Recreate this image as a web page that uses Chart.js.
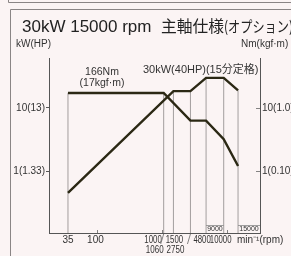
<!DOCTYPE html>
<html lang="ja">
<head>
<meta charset="UTF-8">
<title>30kW 15000 rpm 主軸仕様</title>
<script src="https://cdn.jsdelivr.net/npm/chart.js@4.4.0/dist/chart.umd.min.js"></script>
<style>
  html, body { margin: 0; padding: 0; background: #fbf4f4; }
  #wrap { width: 291px; height: 256px; position: relative; }
</style>
</head>
<body>
<div id="wrap"><canvas id="spindle"></canvas></div>
<script>
// output power (kW) against spindle speed (min-1)
var powerRpm = [35, 1500, 2750, 4800, 9000, 15000];
var powerKw = [0.45, 18.5, 18.5, 30, 30, 19];
// torque, read against the right hand axis
var torqueRpm = [35, 1060, 2750, 4800, 9000, 15000];
var torqueVal = [17.3, 17.3, 6.3, 6.3, 3.2, 1.2];

var xTicks = [35, 100, 1000, 1500, 4800, 10000];
var xTickLabels = ['35', '100', '1000', '1500', '4800', '10000'];
var xTicks2 = [1060, 2750];
var xTickLabels2 = ['1060', '2750'];
var yTicks = [1, 10];
var yLeftLabels = ['1(1.33)', '10(13)'];
var yRightLabels = ['1(0.10)', '10(1.0)'];

var X_MIN = 17.8, X_MAX = 32800;
var Y_MIN = 0.104, Y_MAX = 62;

var INK = '#2b2814';
var SANS = '"Liberation Sans", Arial, "Noto Sans CJK JP", sans-serif';

function pts(xs, ys) {
    return xs.map(function (x, i) { return { x: x, y: ys[i] }; });
}
function valueAt(xs, ys, x) {
    var i = xs.indexOf(x);
    return i < 0 ? 0 : ys[i];
}

// thin drop lines from the x axis up to the upper curve at every break point
var guideRpm = powerRpm.concat(torqueRpm)
    .filter(function (v, i, a) { return a.indexOf(v) === i; })
    .sort(function (a, b) { return a - b; });
var guidePts = [];
guideRpm.forEach(function (r) {
    var top = Math.max(valueAt(powerRpm, powerKw, r), valueAt(torqueRpm, torqueVal, r));
    guidePts.push({ x: r, y: Y_MIN }, { x: r, y: top }, { x: r, y: null });
});

// draw text squeezed into a given width
function fitText(ctx, text, x, y, w, font) {
    ctx.font = font;
    var m = ctx.measureText(text).width;
    ctx.save();
    ctx.translate(x, y);
    ctx.scale(Math.min(1, w / m), 1);
    ctx.fillText(text, 0, 0);
    ctx.restore();
}

// centred text, narrowed horizontally
function narrowText(ctx, text, cx, y, sx) {
    ctx.save();
    ctx.translate(cx, y);
    ctx.scale(sx, 1);
    ctx.fillText(text, 0, 0);
    ctx.restore();
}

var decor = {
    id: 'decor',
    beforeDraw: function (chart) {
        var ctx = chart.ctx;
        ctx.save();
        ctx.fillStyle = '#fbf4f4';
        ctx.fillRect(0, 0, chart.width, chart.height);
        // frame of the previous panel and of this one
        ctx.strokeStyle = '#8a8585';
        ctx.lineWidth = 1;
        ctx.beginPath();
        ctx.moveTo(8.5, 0); ctx.lineTo(8.5, 2.5); ctx.lineTo(chart.width, 2.5);
        ctx.moveTo(chart.width, 9.5); ctx.lineTo(10.5, 9.5); ctx.lineTo(10.5, chart.height);
        ctx.stroke();
        ctx.restore();
    },
    afterDraw: function (chart) {
        var ctx = chart.ctx;
        var xs = chart.scales.x, y1 = chart.scales.y1;
        var area = chart.chartArea;
        ctx.save();
        ctx.fillStyle = '#222';
        ctx.textBaseline = 'alphabetic';
        ctx.textAlign = 'left';
        ctx.font = '17px ' + SANS;
        ctx.fillText('30kW 15000 rpm', 22, 32);
        fitText(ctx, '主軸仕様', 161, 32, 63, '16px "Noto Sans CJK JP", sans-serif');
        fitText(ctx, '(オプション)', 224, 32, 69, '15px "Noto Sans CJK JP", sans-serif');

        ctx.fillStyle = '#333';
        ctx.textBaseline = 'middle';
        ctx.font = '10px ' + SANS;
        ctx.fillText('kW(HP)', 16, 44);
        ctx.fillText('Nm(kgf·m)', 241, 44);

        ctx.textAlign = 'center';
        ctx.font = '10.5px ' + SANS;
        ctx.fillText('166Nm', 102, 72);
        ctx.fillText('(17kgf·m)', 102, 83);
        ctx.textAlign = 'left';
        ctx.font = '11px ' + SANS;
        ctx.fillText('30kW(40HP)(15分定格)', 143, 70);

        // x axis labels, nudged and narrowed like the printed chart
        var nudge = [0, -2, -9, 1, -4, -6];
        ctx.textAlign = 'center';
        ctx.font = '10px ' + SANS;
        xTicks.forEach(function (v, i) {
            var sx = xTickLabels[i].length >= 4 ? 0.78 : 1;
            narrowText(ctx, xTickLabels[i], xs.getPixelForValue(v) + nudge[i], 240, sx);
        });
        var nudge2 = [-9, -15];
        xTicks2.forEach(function (v, i) {
            narrowText(ctx, xTickLabels2[i], xs.getPixelForValue(v) + nudge2[i], 250, 0.8);
        });
        ctx.textAlign = 'left';
        ctx.fillText('min⁻¹(rpm)', 237, 240);

        ctx.strokeStyle = '#666';
        ctx.lineWidth = 0.8;
        ctx.beginPath();
        xTicks2.forEach(function (v) {
            var px = xs.getPixelForValue(v);
            ctx.moveTo(px, area.bottom + 1); ctx.lineTo(px - 3, area.bottom + 11);
        });
        // small decade marks
        [100, 1000, 10000].forEach(function (v) {
            var px = Math.round(xs.getPixelForValue(v)) + 0.5;
            ctx.moveTo(px, area.bottom); ctx.lineTo(px, area.bottom - 3);
        });
        // right axis tick marks point inwards
        yTicks.forEach(function (v) {
            var py = Math.round(y1.getPixelForValue(v)) + 0.5;
            ctx.moveTo(area.right - 4, py); ctx.lineTo(area.right, py);
        });
        ctx.stroke();

        // little boxed speed labels
        var p48 = xs.getPixelForValue(4800), p90 = xs.getPixelForValue(9000), p150 = xs.getPixelForValue(15000);
        ctx.strokeStyle = '#888';
        ctx.beginPath();
        ctx.moveTo(p48, 225.5); ctx.lineTo(p90, 225.5);
        ctx.moveTo(p150, 225.5); ctx.lineTo(area.right, 225.5);
        ctx.stroke();
        ctx.fillStyle = '#333';
        ctx.font = '7px ' + SANS;
        ctx.textAlign = 'right';
        ctx.fillText('9000', p90 - 1, 229.5);
        ctx.textAlign = 'center';
        ctx.fillText('15000', (p150 + area.right) / 2, 229.5);
        ctx.restore();
    }
};

new Chart(document.getElementById('spindle'), {
    type: 'line',
    data: {
        datasets: [
            {
                label: 'power',
                data: pts(powerRpm, powerKw),
                yAxisID: 'y',
                borderColor: INK,
                borderWidth: 2.4,
                pointRadius: 0,
                tension: 0,
                order: 1
            },
            {
                label: 'torque',
                data: pts(torqueRpm, torqueVal),
                yAxisID: 'y1',
                borderColor: INK,
                borderWidth: 2.4,
                pointRadius: 0,
                tension: 0,
                order: 2
            },
            {
                label: 'guides',
                data: guidePts,
                yAxisID: 'y',
                borderColor: '#a39e9e',
                borderWidth: 1,
                pointRadius: 0,
                spanGaps: false,
                order: 3
            }
        ]
    },
    options: {
        responsive: true,
        maintainAspectRatio: false,
        animation: false,
        layout: { padding: { top: 58, left: 0, right: 0, bottom: 0 } },
        plugins: {
            legend: { display: false },
            title: { display: false },
            tooltip: { enabled: false }
        },
        scales: {
            x: {
                type: 'logarithmic',
                min: X_MIN,
                max: X_MAX,
                afterBuildTicks: function (s) { s.ticks = xTicks.map(function (v) { return { value: v }; }); },
                afterFit: function (s) { s.height = 23; },
                ticks: { display: false },
                grid: { drawOnChartArea: false, drawTicks: false },
                border: { color: '#555', width: 1 }
            },
            y: {
                type: 'logarithmic',
                position: 'left',
                min: Y_MIN,
                max: Y_MAX,
                afterBuildTicks: function (s) { s.ticks = yTicks.map(function (v) { return { value: v }; }); },
                afterFit: function (s) { s.width = 49; },
                ticks: {
                    autoSkip: false,
                    padding: 1,
                    color: '#333',
                    font: { size: 10, family: SANS },
                    callback: function (v, i) { return yLeftLabels[i]; }
                },
                grid: { drawOnChartArea: false, tickLength: 3, color: '#555' },
                border: { color: '#555', width: 1 }
            },
            y1: {
                type: 'logarithmic',
                position: 'right',
                min: Y_MIN,
                max: Y_MAX,
                afterBuildTicks: function (s) { s.ticks = yTicks.map(function (v) { return { value: v }; }); },
                afterFit: function (s) { s.width = 31; },
                ticks: {
                    autoSkip: false,
                    padding: 2,
                    color: '#333',
                    font: { size: 10, family: SANS },
                    callback: function (v, i) { return yRightLabels[i]; }
                },
                grid: { drawOnChartArea: false, drawTicks: false },
                border: { color: '#555', width: 1 }
            }
        }
    },
    plugins: [decor]
});
</script>
</body>
</html>
